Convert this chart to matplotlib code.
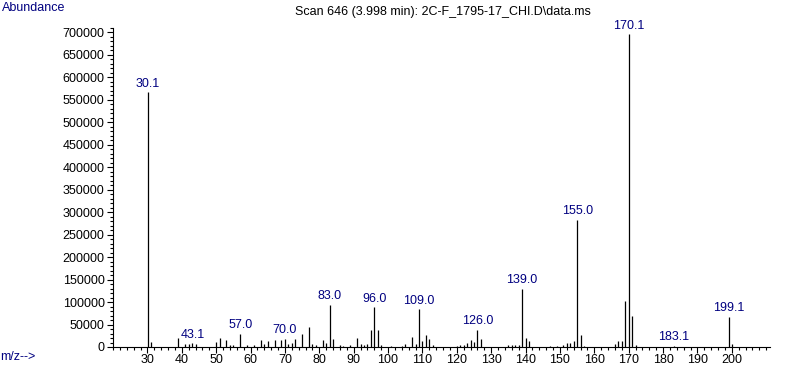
import matplotlib
matplotlib.use("Agg")
from matplotlib import pyplot as plt
from matplotlib.ticker import MultipleLocator

# Peak list (m/z, abundance)
mz = [30.1, 31, 39, 41, 42, 43.1, 44, 50, 51, 53, 54, 55, 57.0, 59, 61,
      63, 64, 65, 67, 69, 70.0, 71, 72, 73, 75, 77, 78, 79, 81, 82, 83.0,
      84, 86, 87, 89, 91, 92, 93, 94, 95, 96.0, 97, 98, 101, 104, 105, 107,
      108, 109.0, 110, 111, 112, 113, 120, 121, 122, 123, 124, 125, 126.0,
      127, 135, 136, 137, 138, 139.0, 140, 141, 147, 149, 151, 152, 153,
      154, 155.0, 156, 157, 166, 167, 168, 169, 170.1, 171, 172, 183.1,
      199.1, 200]
abundance = [566000, 11000, 20500, 6000, 7000, 8000, 6000, 11000, 20500,
             15500, 4000, 5000, 30000, 5000, 4000, 15500, 6000, 13500, 15500,
             14500, 17700, 6000, 9000, 17500, 29500, 45000, 6000, 5000, 15500,
             9000, 93500, 17500, 4000, 3000, 3500, 20000, 6000, 4000, 7000,
             37600, 88000, 37600, 4000, 3000, 3000, 7000, 22000, 7000, 83800,
             13000, 26500, 17700, 3500, 3000, 3500, 4500, 9000, 16000, 12000,
             37800, 18700, 3500, 3500, 4000, 5500, 129000, 19500, 13000, 2500,
             3000, 4000, 8000, 8000, 14000, 282000, 26500, 2500, 6600, 14000,
             14000, 102000, 695000, 69000, 4000, 2500, 67300, 7000]

# peaks that carry a m/z label
labelled = [30.1, 43.1, 57.0, 70.0, 83.0, 96.0, 109.0, 126.0, 139.0,
            155.0, 170.1, 183.1, 199.1]

title = "Scan 646 (3.998 min): 2C-F_1795-17_CHI.D\\data.ms"
navy = "#000080"

plt.rcParams['font.family'] = ['Liberation Sans', 'DejaVu Sans']

fig = plt.figure(figsize=(7.87, 3.67), dpi=100)
ax = fig.add_axes([0.1436, 0.0545, 0.978 - 0.1436, 0.9245 - 0.0545])

ax.vlines(mz, 0, abundance, colors="black", linewidth=0.9)

for m, a in zip(mz, abundance):
    if m in labelled:
        ax.annotate(f"{m:.1f}", (m, a), xytext=(0, 2), textcoords="offset points",
                    ha="center", va="bottom", color=navy, fontsize=9)

ax.set_xlim(20, 211)
ax.set_ylim(0, 710000)
ax.set_xticks(range(30, 201, 10))
ax.xaxis.set_minor_locator(MultipleLocator(2))
ax.set_yticks(range(0, 700001, 50000))
ax.yaxis.set_minor_locator(MultipleLocator(10000))
ax.tick_params(axis='both', which='major', labelsize=9, length=4, width=0.8, direction='out')
ax.tick_params(axis='x', which='major', pad=1)
ax.tick_params(axis='y', which='major', pad=2)
ax.tick_params(axis='both', which='minor', length=2, width=0.8, direction='out')

for side in ['top', 'right']:
    ax.spines[side].set_visible(False)
for side in ['left', 'bottom']:
    ax.spines[side].set_linewidth(0.8)

fig.text(0.003, 0.978, "Abundance", color=navy, fontsize=9, ha="left", va="center")
fig.text(0.0, 0.027, "m/z-->", color=navy, fontsize=9, ha="left", va="center")
fig.text(0.563, 0.967, title, color="black", fontsize=9, ha="center", va="center")

fig.savefig("out.png", dpi=100)
